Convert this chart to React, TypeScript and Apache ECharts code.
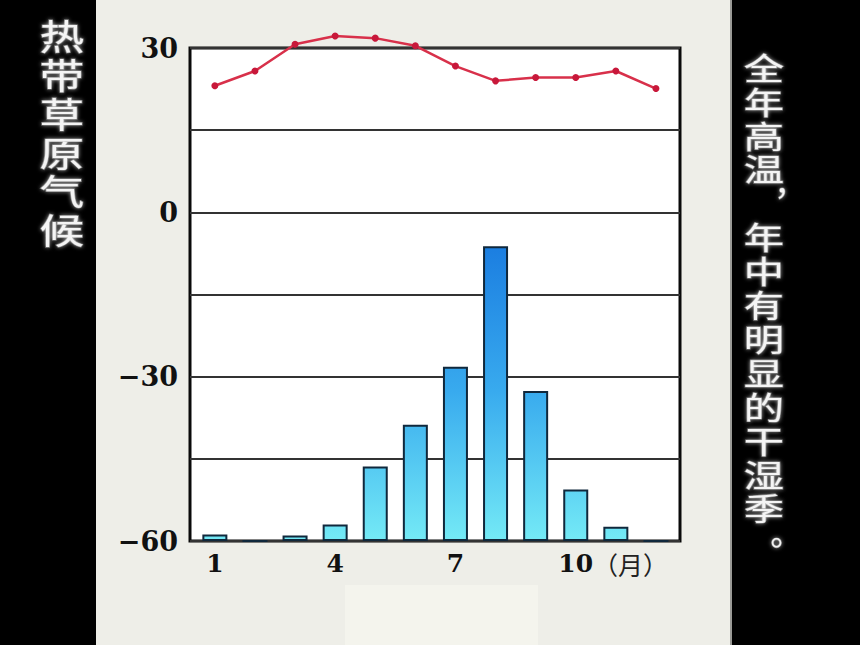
import React, { useEffect, useRef } from "react";
import * as echarts from "echarts";

const months = [1, 2, 3, 4, 5, 6, 7, 8, 9, 10, 11, 12];
const temperature = [23.1, 25.8, 30.7, 32.2, 31.8, 30.4, 26.7, 24.0, 24.6, 24.6, 25.8, 22.6];
const precipitation = [6, 0, 5, 15, 68, 106, 159, 269, 137, 47, 13, 0];
const tempTickLabels = [30, 0, -30, -60];
const monthTickLabels = [1, 4, 7, 10];
const monthUnit = "（月）";
const leftTitle = "热带草原气候";
const rightNote = "全年高温，年中有明显的干湿季。";

export default function App() {
  const ref = useRef<HTMLDivElement>(null);

  useEffect(() => {
    if (!ref.current) return;
    const chart = echarts.init(ref.current, undefined, { renderer: "svg" });

    const cjk = "Noto Sans CJK SC";
    const textGlow = {
      fill: "#f4f4f4",
      fontFamily: cjk,
      fontWeight: "normal",
      align: "center",
      verticalAlign: "middle",
      stroke: "rgba(255,255,255,0.35)",
      lineWidth: 1.2,
      textShadowColor: "rgba(255,255,255,0.7)",
      textShadowBlur: 4,
    };

    const leftChars = leftTitle.split("").map((ch, i) => ({
      type: "text",
      x: 62,
      y: 35 + i * 38.8,
      scaleX: 1.28,
      style: { ...textGlow, text: ch, fontSize: 35 },
      z: 10,
    }));

    const rightChars = rightNote.split("").map((ch, i) => {
      const cy = 66 + i * 33.9;
      let x = 764;
      let y = cy;
      let sx = 1.3;
      if (ch === "，") {
        x = 790;
        y = cy - 20;
        sx = 1;
      } else if (ch === "。") {
        x = 786;
        y = cy - 9;
        sx = 1;
      }
      return {
        type: "text",
        x,
        y,
        scaleX: sx,
        style: { ...textGlow, text: ch, fontSize: 31 },
        z: 10,
      };
    });

    const option: any = {
      animation: false,
      backgroundColor: "#000000",
      graphic: [
        {
          type: "rect",
          shape: { x: 96, y: 0, width: 635, height: 645 },
          style: { fill: "#eeeee8" },
          z: -10,
        },
        {
          type: "rect",
          shape: { x: 345, y: 585, width: 193, height: 60 },
          style: { fill: "#f4f4ed" },
          z: -9,
        },
        {
          type: "line",
          shape: { x1: 731, y1: 0, x2: 731, y2: 645 },
          style: { stroke: "#9a9a96", lineWidth: 2 },
          z: -9,
        },
        ...leftChars,
        ...rightChars,
      ],
      grid: {
        left: 190,
        right: 180,
        top: 48,
        bottom: 104,
        show: true,
        backgroundColor: "#ffffff",
        borderColor: "#0a0a0a",
        borderWidth: 3,
        z: 0,
      },
      xAxis: {
        type: "value",
        min: 0.38,
        max: 12.6,
        axisLine: { show: false },
        axisTick: { show: false },
        splitLine: { show: false },
        axisLabel: {
          customValues: monthTickLabels,
          margin: 10,
          formatter: (v: number) =>
            v === 10 ? `{p| }{n|${v}}{u|${monthUnit}}` : `{n|${v}}`,
          rich: {
            n: {
              fontFamily: "DejaVu Serif",
              fontWeight: "bold",
              fontSize: 25,
              color: "#111111",
            },
            u: {
              fontFamily: cjk,
              fontSize: 25,
              color: "#222222",
            },
            p: { width: 75 },
          },
        },
      },
      yAxis: [
        {
          type: "value",
          min: -60,
          max: 30,
          interval: 15,
          axisLine: { show: false },
          axisTick: { show: false },
          splitLine: { show: true, lineStyle: { color: "#333333", width: 2 } },
          axisLabel: {
            margin: 12,
            fontFamily: "DejaVu Serif",
            fontWeight: "bold",
            fontSize: 27,
            color: "#111111",
            formatter: (v: number) =>
              tempTickLabels.includes(v) ? (v < 0 ? "−" + Math.abs(v) : String(v)) : "",
          },
        },
        {
          type: "value",
          min: 0,
          max: 450,
          show: false,
          splitLine: { show: false },
        },
      ],
      series: [
        {
          type: "bar",
          xAxisIndex: 0,
          yAxisIndex: 1,
          barWidth: 25,
          data: months.map((m, i) => [m, precipitation[i]]),
          itemStyle: {
            color: {
              type: "linear",
              x: 0,
              y: 240,
              x2: 0,
              y2: 541,
              global: true,
              colorStops: [
                { offset: 0, color: "#1a7ce0" },
                { offset: 0.5, color: "#38aaee" },
                { offset: 1, color: "#74eaf6" },
              ],
            },
            borderColor: "#10283c",
            borderWidth: 2,
          },
          z: 2,
        },
        {
          type: "line",
          xAxisIndex: 0,
          yAxisIndex: 0,
          clip: false,
          data: months.map((m, i) => [m, temperature[i]]),
          symbol: "circle",
          symbolSize: 7,
          lineStyle: { color: "#d8304a", width: 2.5 },
          itemStyle: { color: "#c8183a" },
          z: 5,
        },
      ],
    };

    chart.setOption(option);
    return () => chart.dispose();
  }, []);

  return (
    <div
      ref={ref}
      style={{ position: "absolute", left: 0, top: 0, width: 860, height: 645 }}
    />
  );
}
